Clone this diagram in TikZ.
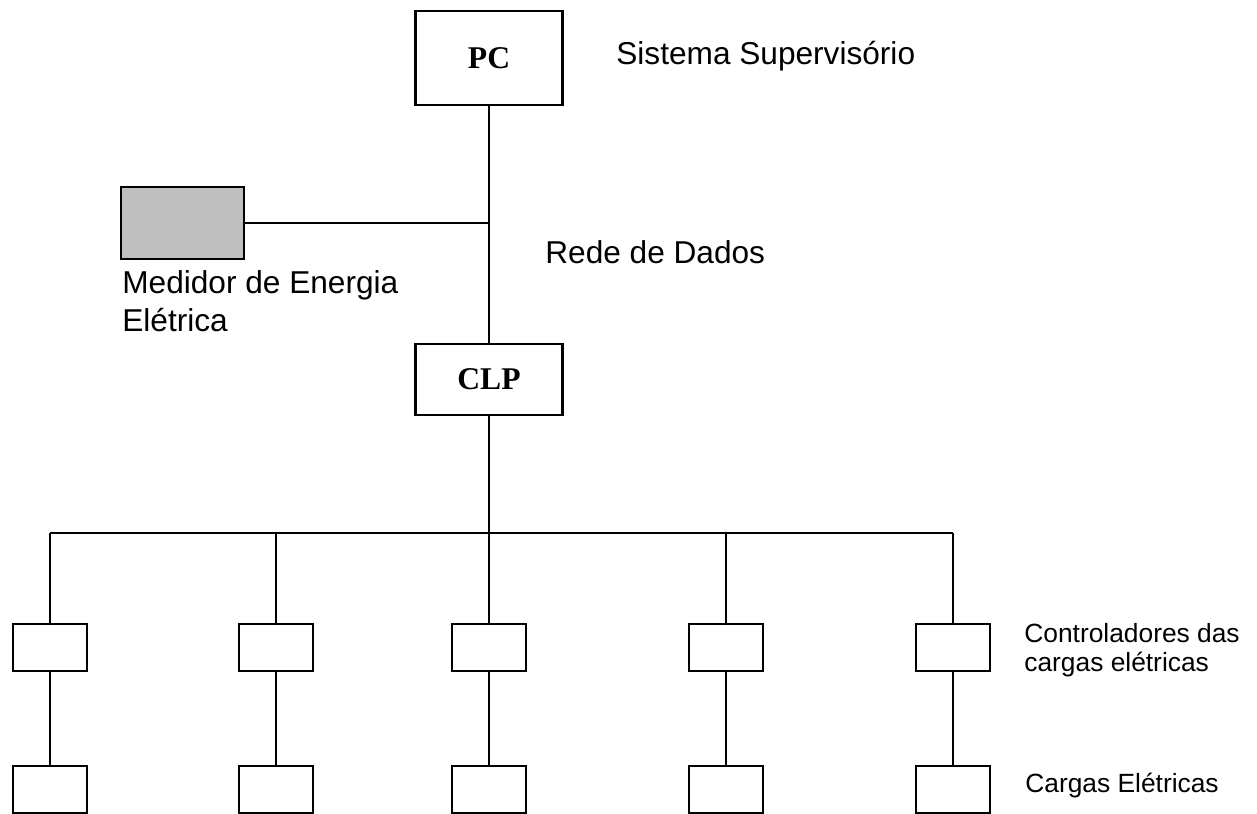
\documentclass[tikz,border=0pt]{standalone}
\usepackage{fontspec}
\setmainfont{Liberation Sans}
\newfontfamily\serifbf{Liberation Serif}
\usepackage{tikz}

\begin{document}
\begin{tikzpicture}[x=0.02cm,y=-0.02cm,
    box/.style={draw,line width=1.4pt,fill=white,inner sep=0pt},
    wire/.style={line width=1.1pt},
    busline/.style={line width=1.5pt},
    lbl/.style={inner sep=0pt,anchor=base west,font=\fontsize{18}{21.6}\selectfont},
    small/.style={inner sep=0pt,anchor=base west,font=\fontsize{15}{16.5}\selectfont},
    title/.style={font=\serifbf\bfseries\fontsize{18}{20}\selectfont}]
  \useasboundingbox (0,0) rectangle (1257,814);

  % PC, CLP and the energy meter
  \node[box,title,minimum width=2.94cm,minimum height=1.88cm] (pc) at (489,58) {PC};
  \node[box,title,minimum width=2.94cm,minimum height=1.42cm] (clp) at (489,379.5) {CLP};
  \node[box,fill=black!25,minimum width=2.46cm,minimum height=1.44cm] (meter) at (182.5,223) {};
  \coordinate (tap) at (pc.south |- meter.east);
  \coordinate (bus) at (clp.south |- 0,533);

  % Data network
  \draw[wire] (pc) -- (clp);
  \draw[wire] (meter.east) -- (tap);
  \draw[wire] (clp) -- (bus);

  % Load controllers and loads
  \foreach \i/\x in {1/50,2/276,3/489,4/726,5/953} {
    \node[box,minimum width=1.48cm,minimum height=0.94cm] (ctrl\i) at (\x,647.5) {};
    \node[box,minimum width=1.48cm,minimum height=0.94cm] (load\i) at (\x,789.5) {};
    \draw[wire] (ctrl\i.north |- bus) -- (ctrl\i.north);
    \draw[wire] (ctrl\i) -- (load\i);
  }
  \draw[busline] (ctrl1.north |- bus) -- (ctrl5.north |- bus);

  % Labels
  \node[lbl] (sistema) at (616,65) {Sistema Supervisório};
  \node[lbl] (rede) at (545,263) {Rede de Dados};
  \node[lbl] (medidor1) at (122,293) {Medidor de Energia};
  \node[lbl] (medidor2) at (122,331) {Elétrica};
  \node[small] (ctrllbl1) at (1024,642) {Controladores das};
  \node[small] (ctrllbl2) at (1024,671) {cargas elétricas};
  \node[small] (loadlbl) at (1025,792) {Cargas Elétricas};
\end{tikzpicture}
\end{document}
